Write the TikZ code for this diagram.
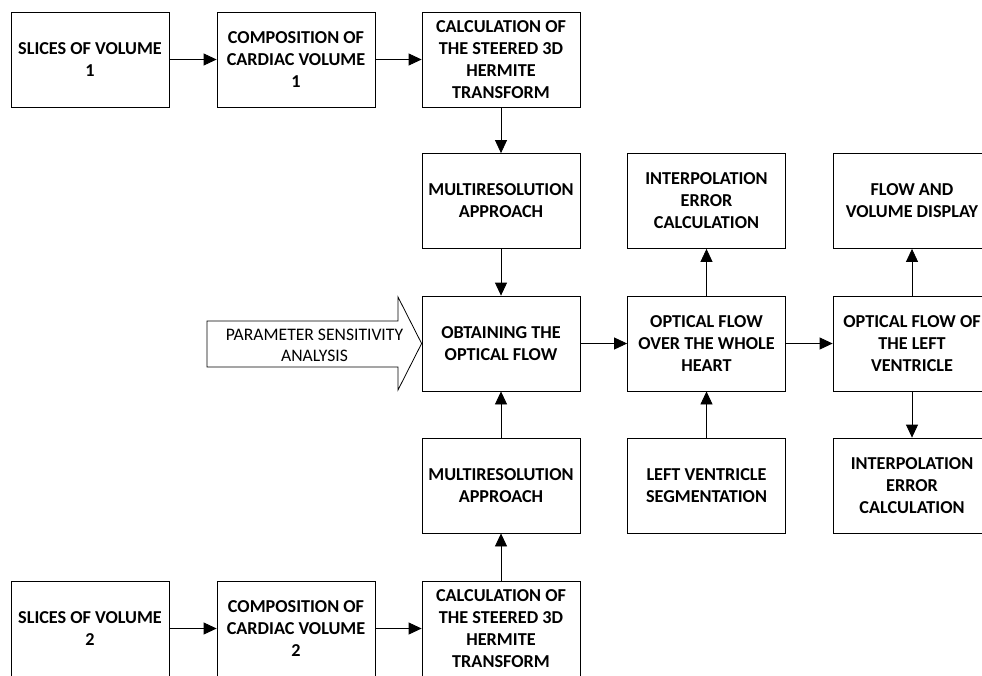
\documentclass[tikz,border=0pt]{standalone}
\usepackage{fontspec}
\setmainfont{Carlito}
\usetikzlibrary{arrows.meta}

\begin{document}
\begin{tikzpicture}[x=1pt,y=-1pt,line width=0.8pt,
  arr/.style={-{Triangle[length=13pt,width=12pt]}}]
\tikzstyle{blk}=[draw, rectangle, minimum width=158pt, minimum height=95pt, inner sep=0pt, align=center, font=\fontsize{18.2}{22}\selectfont\bfseries]
\clip (0,0) rectangle (982,675);
\fill[white] (0,0) rectangle (982,675);
% volume 1 (top row)
\node[blk] (s1) at (90,59.5){SLICES OF VOLUME\\1};
\node[blk] (c1) at (296,59.5){COMPOSITION OF\\CARDIAC VOLUME\\1};
\node[blk] (h1) at (501,59.5){CALCULATION OF\\THE STEERED 3D\\HERMITE\\TRANSFORM};
\node[blk] (m1) at (501,201){MULTIRESOLUTION\\APPROACH};
% middle row
\node[blk] (of) at (501,343.5){OBTAINING THE\\OPTICAL FLOW};
\node[blk] (wh) at (706.5,343.5){OPTICAL FLOW\\OVER THE WHOLE\\HEART};
\node[blk] (lvf) at (912,343.5){OPTICAL FLOW OF\\THE LEFT\\VENTRICLE};
\node[blk] (ie1) at (706.5,201){INTERPOLATION\\ERROR\\CALCULATION};
\node[blk] (lv) at (706.5,485.5){LEFT VENTRICLE\\SEGMENTATION};
\node[blk] (disp) at (912,201){FLOW AND\\VOLUME DISPLAY};
\node[blk] (ie2) at (912,485.5){INTERPOLATION\\ERROR\\CALCULATION};
% volume 2 (bottom row)
\node[blk] (m2) at (501,485.5){MULTIRESOLUTION\\APPROACH};
\node[blk] (s2) at (90,628.5){SLICES OF VOLUME\\2};
\node[blk] (c2) at (296,628.5){COMPOSITION OF\\CARDIAC VOLUME\\2};
\node[blk] (h2) at (501,628.5){CALCULATION OF\\THE STEERED 3D\\HERMITE\\TRANSFORM};
% big input arrow
\draw (207,321) -- (398,321) -- (398,297) -- (of.west) -- (398,390) -- (398,367) -- (207,367) -- cycle;
\node[align=center, font=\fontsize{17.6}{21}\selectfont] (psa) at (314.5,345){PARAMETER SENSITIVITY\\ANALYSIS};
\foreach \i/\j in {s1/c1,c1/h1,h1/m1,m1/of,s2/c2,c2/h2,h2/m2,m2/of,of/wh,wh/ie1,lv/wh,wh/lvf,lvf/disp,lvf/ie2}{\draw[arr] (\i) -- (\j);}
\end{tikzpicture}
\end{document}
